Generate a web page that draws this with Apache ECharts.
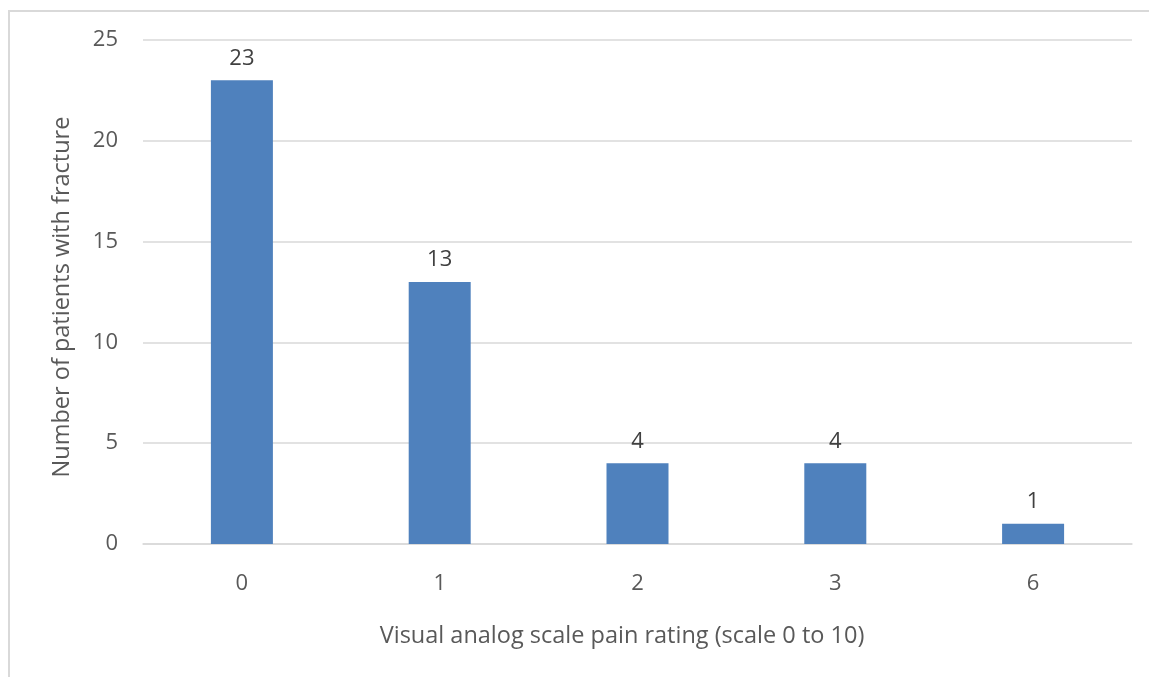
<!DOCTYPE html>
<html>
<head>
<meta charset="utf-8">
<script src="https://cdn.jsdelivr.net/npm/echarts@6/dist/echarts.min.js"></script>
<style>
  html, body { margin: 0; padding: 0; background: #ffffff; }
  #chart { width: 1149px; height: 677px; }
</style>
</head>
<body>
<div id="chart"></div>
<script>
// Pain ratings (VAS) and how many fracture patients reported each
const categories = ['0', '1', '2', '3', '6'];
const patientCounts = [23, 13, 4, 4, 1];
const yTicks = [0, 5, 10, 15, 20, 25];

const xTitle = 'Visual analog scale pain rating (scale 0 to 10)';
const yTitle = 'Number of patients with fracture';

const textColor = '#595959';
const fontFamily = '"Open Sans", "Noto Sans", sans-serif';

const chart = echarts.init(document.getElementById('chart'), null, { renderer: 'canvas' });

chart.setOption({
  backgroundColor: '#ffffff',
  animation: false,
  textStyle: { fontFamily: fontFamily },
  graphic: [
    {
      // outer chart frame (top and left edges are visible)
      type: 'rect',
      shape: { x: 9, y: 11, width: 1200, height: 720 },
      style: { fill: 'none', stroke: '#d9d9d9', lineWidth: 2 },
      silent: true
    },
    {
      type: 'text',
      x: 622,
      y: 636,
      style: {
        text: xTitle, fill: textColor, font: '23.5px ' + fontFamily,
        align: 'center', verticalAlign: 'middle'
      }
    },
    {
      type: 'text',
      rotation: Math.PI / 2,
      x: 62,
      y: 297,
      style: {
        text: yTitle, fill: textColor, font: '23.5px ' + fontFamily,
        align: 'center', verticalAlign: 'middle'
      }
    }
  ],
  grid: { left: 143, right: 17, top: 40, bottom: 133, containLabel: false },
  xAxis: {
    type: 'category',
    data: categories,
    axisLine: { show: true, lineStyle: { color: '#d9d9d9', width: 1.5 } },
    axisTick: { show: false },
    axisLabel: { color: textColor, fontSize: 22, margin: 29, fontFamily: fontFamily },
    splitLine: { show: false }
  },
  yAxis: {
    type: 'value',
    min: yTicks[0],
    max: yTicks[yTicks.length - 1],
    interval: yTicks[1] - yTicks[0],
    axisLine: { show: false },
    axisTick: { show: false },
    axisLabel: { color: textColor, fontSize: 22, margin: 25, fontFamily: fontFamily },
    splitLine: { show: true, lineStyle: { color: '#d9d9d9', width: 1.5 } }
  },
  series: [
    {
      type: 'bar',
      data: patientCounts,
      barWidth: 62,
      itemStyle: { color: '#4f81bd' },
      label: {
        show: true,
        position: 'top',
        distance: 11,
        color: '#404040',
        fontSize: 22,
        fontFamily: fontFamily
      }
    }
  ]
});
</script>
</body>
</html>
